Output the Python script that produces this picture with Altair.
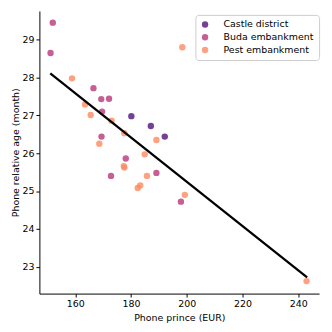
import altair as alt
import pandas as pd

castle_x = [180.1, 187.1, 192.1]
castle_y = [26.98, 26.72, 26.44]

buda_x = [151.9, 151.1, 166.5, 169.3, 172.1, 169.6, 169.4, 178.1, 172.8, 189.1, 197.9]
buda_y = [29.45, 28.65, 27.72, 27.43, 27.44, 27.10, 26.44, 25.86, 25.40, 25.48, 24.72]

pest_x = [158.8, 163.5, 165.5, 173.0, 177.6, 168.6, 184.9, 177.4, 177.6, 189.1,
          185.7, 183.3, 182.4, 199.3, 198.4, 243.0]
pest_y = [27.98, 27.29, 27.01, 26.86, 26.53, 26.25, 25.97, 25.66, 25.62, 26.35,
          25.40, 25.15, 25.08, 24.90, 28.80, 22.62]

fit_x = [151.0, 243.2]
fit_y = [28.11, 22.72]

groups = ["Castle district", "Buda embankment", "Pest embankment"]
colors = ["#51127c", "#b73779", "#fc8961"]

rows = []
for name, xs, ys in [(groups[0], castle_x, castle_y),
                     (groups[1], buda_x, buda_y),
                     (groups[2], pest_x, pest_y)]:
    for a, b in zip(xs, ys):
        rows.append({"price": a, "age": b, "district": name})
df = pd.DataFrame(rows)
fit = pd.DataFrame({"price": fit_x, "age": fit_y})

FONT = "DejaVu Sans"

xscale = alt.Scale(domain=[147.1, 247.5], nice=False, zero=False)
yscale = alt.Scale(domain=[22.29, 29.76], nice=False, zero=False)

xaxis = alt.Axis(title="Phone prince (EUR)", values=[160, 180, 200, 220, 240],
                 grid=False, domainColor="black", tickColor="black",
                 labelColor="black", titleColor="black", labelFont=FONT,
                 titleFont=FONT, labelFontSize=9.6, titleFontSize=9.6,
                 titleFontWeight="normal", tickSize=3.5, labelPadding=2,
                 titlePadding=4)
yaxis = alt.Axis(title="Phone relative age (month)", values=[23, 24, 25, 26, 27, 28, 29],
                 grid=False, domainColor="black", tickColor="black",
                 labelColor="black", titleColor="black", labelFont=FONT,
                 titleFont=FONT, labelFontSize=9.6, titleFontSize=9.6,
                 titleFontWeight="normal", tickSize=3.5, labelPadding=2,
                 titlePadding=2)

points = alt.Chart(df).mark_circle(size=42, opacity=0.8).encode(
    x=alt.X("price:Q", scale=xscale, axis=xaxis),
    y=alt.Y("age:Q", scale=yscale, axis=yaxis),
    color=alt.Color("district:N",
                    scale=alt.Scale(domain=groups, range=colors),
                    sort=groups,
                    legend=alt.Legend(title=None, orient="none",
                                      legendX=159, legendY=4,
                                      labelFont=FONT, labelFontSize=9.6,
                                      labelColor="black",
                                      symbolType="circle", symbolSize=42,
                                      symbolOpacity=0.8,
                                      labelOffset=14, rowPadding=2,
                                      padding=5, strokeColor="#cccccc",
                                      fillColor="white", cornerRadius=3)),
)

line = alt.Chart(fit).mark_line(color="black", strokeWidth=2.3).encode(
    x=alt.X("price:Q", scale=xscale),
    y=alt.Y("age:Q", scale=yscale),
)

chart = alt.layer(points, line).properties(
    width=285, height=288,
    autosize=alt.AutoSizeParams(type="none"),
    padding={"left": 32, "top": 0, "right": 5, "bottom": 30},
).configure_view(stroke=None)

chart.save("out.html", embed_options={"renderer": "svg", "actions": False})
